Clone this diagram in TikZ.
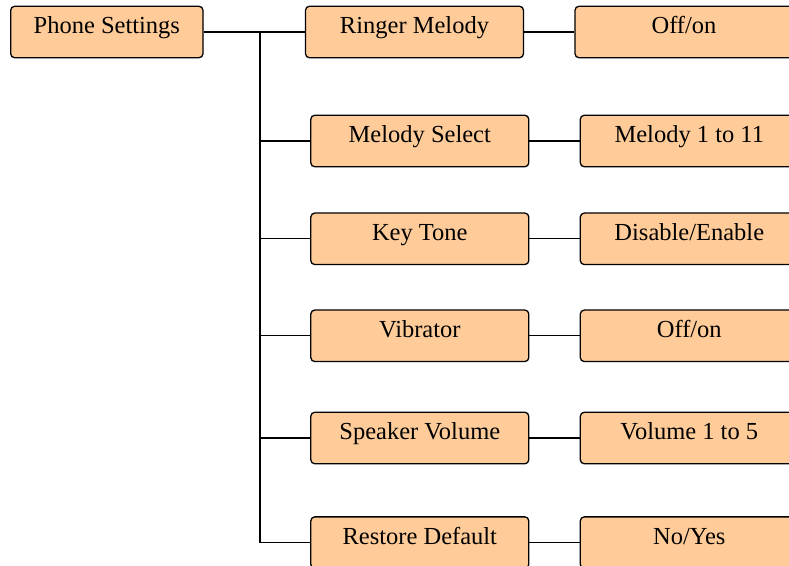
\documentclass[tikz,border=0pt]{standalone}
\usepackage{fontspec}
\setmainfont{Liberation Serif}
\definecolor{boxfill}{HTML}{FFCC99}
\begin{document}
\begin{tikzpicture}[x=1pt,y=-1pt,
  box/.style={draw=black, line width=1.3pt, fill=boxfill, rounded corners=4pt,
    inner sep=0pt, minimum height=51.5pt, text height=21pt, text depth=18pt,
    font=\fontsize{24.5}{29}\selectfont},
  midbox/.style={box, minimum width=218pt},
  conn/.style={line width=1.3pt}]
\useasboundingbox (0,0) rectangle (789,565);
\clip (0,0) rectangle (789,565);
% root
\node[box, minimum width=192.3pt] (ps) at (106.85,32) {Phone Settings};
% middle column
\node[midbox] (rm) at (414.5,32) {Ringer Melody};
\node[midbox] (ms) at (419.8,141) {Melody Select};
\node[midbox] (kt) at (419.8,238.8) {Key Tone};
\node[midbox] (vb) at (419.8,335.8) {Vibrator};
\node[midbox] (sv) at (419.8,438) {Speaker Volume};
\node[midbox] (rd) at (419.8,542.6) {Restore Default};
% right column
\node[midbox] (o1) at (684,32) {Off/on};
\node[midbox] (o2) at (689.3,141) {Melody 1 to 11};
\node[midbox] (o3) at (689.3,238.8) {Disable/Enable};
\node[midbox] (o4) at (689.3,335.8) {Off/on};
\node[midbox] (o5) at (689.3,438) {Volume 1 to 5};
\node[midbox] (o6) at (689.3,542.6) {No/Yes};
% trunk
\coordinate (j) at (260,32);
\draw[conn] (ps.east) -- (rm.west);
\draw[conn] (j) |- (rd.west);
\foreach \n in {ms,kt,vb,sv}{
  \draw[conn] (j |- \n.west) -- (\n.west);
}
% leaves
\draw[conn] (rm.east) -- (o1.west);
\draw[conn] (ms.east) -- (o2.west);
\draw[conn] (kt.east) -- (o3.west);
\draw[conn] (vb.east) -- (o4.west);
\draw[conn] (sv.east) -- (o5.west);
\draw[conn] (rd.east) -- (o6.west);
\end{tikzpicture}
\end{document}
